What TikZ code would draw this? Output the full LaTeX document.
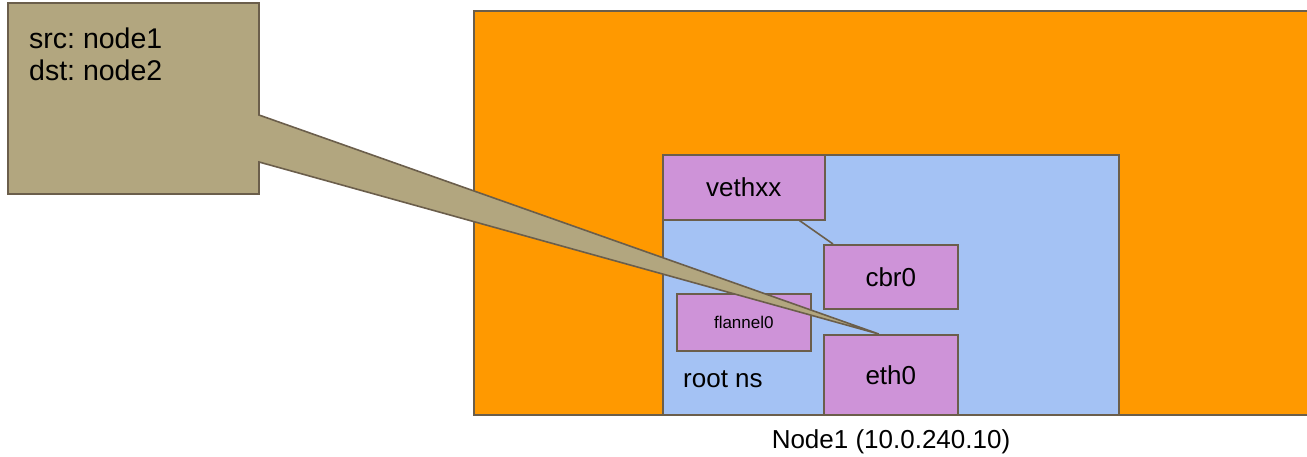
\documentclass[tikz,border=0pt]{standalone}
\usepackage{fontspec}
\setmainfont{Liberation Sans}
\usetikzlibrary{positioning,calc}
\frenchspacing

\definecolor{hostorange}{HTML}{FF9900}
\definecolor{nsblue}{HTML}{A4C2F4}
\definecolor{ifpink}{HTML}{CE93D8}
\definecolor{notetan}{HTML}{B2A67F}
\definecolor{edgebrown}{HTML}{6B5E4B}

\tikzset{
    box/.style={draw=edgebrown,line width=1.6pt,anchor=north west,inner sep=0pt},
    iface/.style={box,fill=ifpink,font=\fontsize{26}{30}\selectfont},
    plain/.style={inner sep=0pt,font=\fontsize{26}{30}\selectfont}
}

\begin{document}
\begin{tikzpicture}[x=1pt,y=-1pt]
        \useasboundingbox (0,0) rectangle (1307,456);
        % host and namespace
        \node[box,fill=hostorange,minimum width=834pt,minimum height=404pt](host) at (473,10){};
        \node[box,fill=nsblue,minimum width=456pt,minimum height=260pt](rootns) at (662,154){};
        \node[plain,anchor=base west](nslabel) at (683,387){root ns};
        \node[plain,anchor=base](hostlabel) at (891,448){Node1 (10.0.240.10)};

        % interfaces
        \node[iface,minimum width=162pt,minimum height=65pt](vethxx) at (662,154){vethxx};
        \node[iface,minimum width=134pt,minimum height=64pt](cbr0) at (823,244){cbr0};
        \node[iface,minimum width=134pt,minimum height=57pt,font=\fontsize{17}{20}\selectfont](flannel0) at (676,293){flannel0};
        \node[iface,minimum width=134pt,minimum height=80pt](eth0) at (823,334){eth0};
        \draw[edgebrown,line width=1.6pt]([xshift=-26pt]vethxx.south east)--([xshift=10pt]cbr0.north west);

        % packet note
        \coordinate (tip) at ([xshift=-12pt]eth0.north);
        \filldraw[fill=notetan,draw=edgebrown,line width=1.6pt,line join=miter]
            (8,3)--(259,3)--(259,115)--(tip)--(259,162)--(259,194)--(8,194)--cycle;
        \node[plain,anchor=base west,align=left,font=\fontsize{28.5}{32}\selectfont](packet) at (29,80){src: node1\\dst: node2};
    \end{tikzpicture}
\end{document}
